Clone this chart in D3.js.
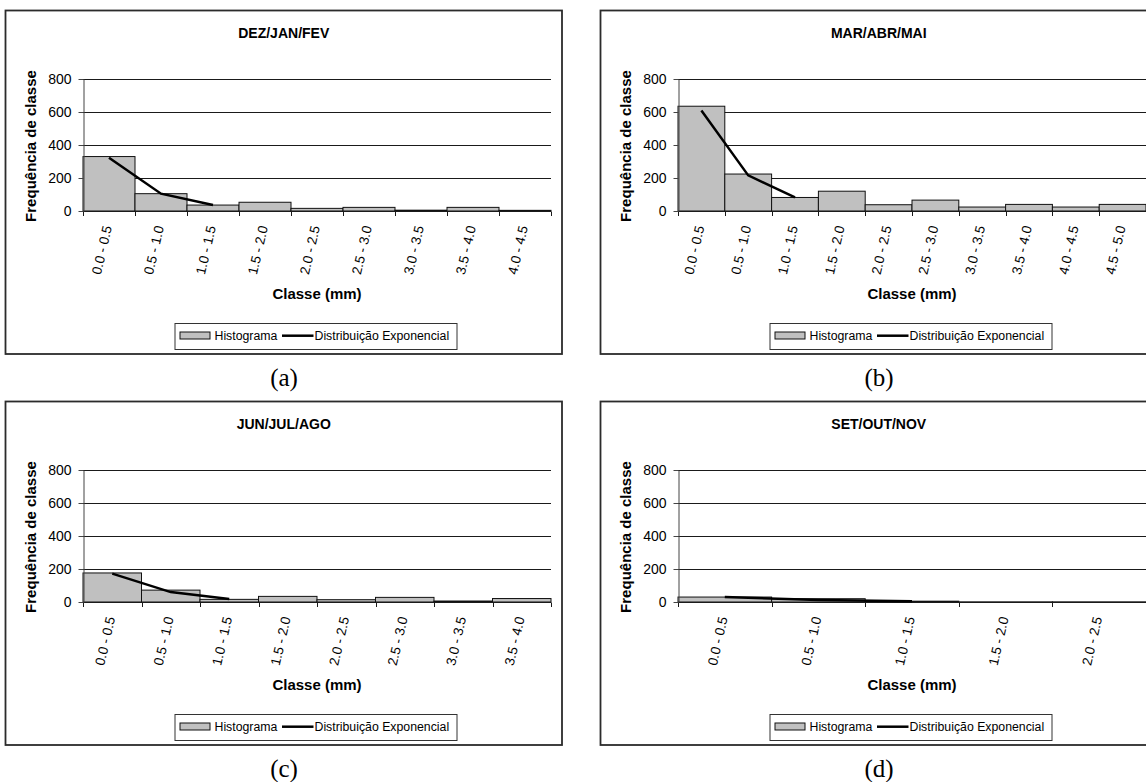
<!DOCTYPE html>
<html>
<head>
<meta charset="utf-8">
<script src="https://cdn.jsdelivr.net/npm/d3@7"></script>
<style>
  html, body { margin: 0; padding: 0; background: #fff; }
  svg { display: block; font-family: "Liberation Sans", Arial, sans-serif; }
</style>
</head>
<body>
<svg id="chart" width="1146" height="782"></svg>
<script>
// Rainfall class frequencies per season, with the fitted exponential curve
const titles = ["DEZ/JAN/FEV", "MAR/ABR/MAI", "JUN/JUL/AGO", "SET/OUT/NOV"];
const captions = ["(a)", "(b)", "(c)", "(d)"];

const classesA = ["0.0 - 0.5", "0.5 - 1.0", "1.0 - 1.5", "1.5 - 2.0", "2.0 - 2.5", "2.5 - 3.0", "3.0 - 3.5", "3.5 - 4.0", "4.0 - 4.5"];
const classesB = ["0.0 - 0.5", "0.5 - 1.0", "1.0 - 1.5", "1.5 - 2.0", "2.0 - 2.5", "2.5 - 3.0", "3.0 - 3.5", "3.5 - 4.0", "4.0 - 4.5", "4.5 - 5.0"];
const classesC = ["0.0 - 0.5", "0.5 - 1.0", "1.0 - 1.5", "1.5 - 2.0", "2.0 - 2.5", "2.5 - 3.0", "3.0 - 3.5", "3.5 - 4.0"];
const classesD = ["0.0 - 0.5", "0.5 - 1.0", "1.0 - 1.5", "1.5 - 2.0", "2.0 - 2.5"];

const histA = [330, 105, 36, 53, 16, 22, 5, 22, 4];
const histB = [635, 224, 82, 120, 38, 66, 24, 40, 24, 40];
const histC = [176, 72, 16, 34, 14, 28, 6, 21];
const histD = [30, 20, 5, 1, 1];

const expoA = [323, 105, 36];
const expoB = [609, 216, 82];
const expoC = [172, 60, 18];
const expoD = [31, 12, 4];

const yTicks = [0, 200, 400, 600, 800];
const yLabel = "Frequência de classe";
const xLabel = "Classe (mm)";
const legendHist = "Histograma";
const legendExpo = "Distribuição Exponencial";

const panels = [
  { classes: classesA, hist: histA, expo: expoA, dx: 0,   dy: 0 },
  { classes: classesB, hist: histB, expo: expoB, dx: 595, dy: 0 },
  { classes: classesC, hist: histC, expo: expoC, dx: 0,   dy: 391 },
  { classes: classesD, hist: histD, expo: expoD, dx: 595, dy: 391 }
].map((p, i) => Object.assign(p, { title: titles[i], caption: captions[i] }));

// Layout of one panel (in panel-local coordinates)
const L = {
  frame: { x: 5.5, y: 10.5, w: 556.5, h: 343.5 },
  plot: { left: 83, right: 551, top: 79, bottom: 211 },
  titleY: 38,
  xTitleY: 299,
  yTitleX: 35.5,
  legend: { y: 323.5, w: 282, h: 26 },
  captionY: 386
};

const svg = d3.select("#chart");

panels.forEach(p => {
  const g = svg.append("g").attr("transform", `translate(${p.dx},${p.dy})`);
  const pl = L.plot;
  const cx = (pl.left + pl.right) / 2;

  // frame
  g.append("rect")
    .attr("x", L.frame.x).attr("y", L.frame.y)
    .attr("width", L.frame.w).attr("height", L.frame.h)
    .attr("fill", "#fff").attr("stroke", "#2b2b2b").attr("stroke-width", 1.8);

  const x = d3.scaleBand().domain(p.classes).range([pl.left, pl.right]).padding(0);
  const y = d3.scaleLinear().domain([0, 800]).range([pl.bottom, pl.top]);

  // gridlines
  g.append("g").selectAll("line").data(yTicks.filter(t => t > 0)).join("line")
    .attr("x1", pl.left).attr("x2", pl.right)
    .attr("y1", d => Math.round(y(d)) + 0.5).attr("y2", d => Math.round(y(d)) + 0.5)
    .attr("stroke", "#1a1a1a").attr("stroke-width", 1);

  // histogram bars
  g.append("g").selectAll("rect").data(p.hist).join("rect")
    .attr("x", (d, i) => x(p.classes[i]))
    .attr("y", d => y(d))
    .attr("width", x.bandwidth())
    .attr("height", d => y(0) - y(d))
    .attr("fill", "#c0c0c0")
    .attr("stroke", "#111").attr("stroke-width", 1);

  // x axis baseline and boundary ticks
  const bl = Math.round(y(0)) + 0.5;
  g.append("line")
    .attr("x1", pl.left).attr("x2", pl.right).attr("y1", bl).attr("y2", bl)
    .attr("stroke", "#1a1a1a").attr("stroke-width", 1);
  const bounds = p.classes.map(c => x(c)).concat([pl.right]);
  g.append("g").selectAll("line").data(bounds).join("line")
    .attr("x1", d => Math.round(d) + 0.5).attr("x2", d => Math.round(d) + 0.5)
    .attr("y1", bl).attr("y2", bl + 4.5)
    .attr("stroke", "#1a1a1a").attr("stroke-width", 1);

  // y axis
  const yAxis = d3.axisLeft(y).tickValues(yTicks).tickSize(5).tickSizeOuter(0).tickPadding(7);
  const ya = g.append("g").attr("transform", `translate(${pl.left + 0.5},0)`).call(yAxis);
  ya.select(".domain").attr("stroke", "#444");
  ya.selectAll(".tick line").attr("stroke", "#444");
  ya.selectAll(".tick text")
    .attr("font-size", 14).attr("font-family", "Liberation Sans, Arial, sans-serif")
    .attr("fill", "#000");

  // exponential fit line
  const line = d3.line()
    .x((d, i) => x(p.classes[i]) + x.bandwidth() / 2)
    .y(d => y(d));
  g.append("path").datum(p.expo)
    .attr("d", line)
    .attr("fill", "none").attr("stroke", "#000").attr("stroke-width", 2.5);

  // category labels (rotated)
  g.append("g").selectAll("text").data(p.classes).join("text")
    .attr("transform", d => `translate(${x(d) + x.bandwidth() / 2 + 3},227) rotate(-77)`)
    .attr("text-anchor", "end")
    .attr("font-size", 13.5)
    .attr("fill", "#000")
    .text(d => d);

  // titles
  g.append("text")
    .attr("x", (L.frame.x * 2 + L.frame.w) / 2).attr("y", L.titleY)
    .attr("text-anchor", "middle").attr("font-weight", "bold").attr("font-size", 14)
    .text(p.title);
  g.append("text")
    .attr("x", cx).attr("y", L.xTitleY)
    .attr("text-anchor", "middle").attr("font-weight", "bold").attr("font-size", 15)
    .text(xLabel);
  g.append("text")
    .attr("transform", `translate(${L.yTitleX},${(pl.top + pl.bottom) / 2 + 1}) rotate(-90)`)
    .attr("text-anchor", "middle").attr("font-weight", "bold").attr("font-size", 15)
    .text(yLabel);

  // legend
  const lx = cx - L.legend.w / 2 - 1;
  const lg = g.append("g").attr("transform", `translate(${lx},${L.legend.y})`);
  lg.append("rect")
    .attr("width", L.legend.w).attr("height", L.legend.h)
    .attr("fill", "#fff").attr("stroke", "#333").attr("stroke-width", 1);
  lg.append("rect")
    .attr("x", 5).attr("y", 8.5).attr("width", 30).attr("height", 7)
    .attr("fill", "#c0c0c0").attr("stroke", "#111").attr("stroke-width", 1);
  lg.append("text")
    .attr("x", 39.5).attr("y", 16.8).attr("font-size", 12.3).text(legendHist);
  lg.append("line")
    .attr("x1", 107).attr("x2", 138.5).attr("y1", 12.2).attr("y2", 12.2)
    .attr("stroke", "#000").attr("stroke-width", 2.5);
  lg.append("text")
    .attr("x", 139.5).attr("y", 16.8).attr("font-size", 12.3).text(legendExpo);

  // caption below the panel
  g.append("text")
    .attr("x", 284).attr("y", L.captionY)
    .attr("text-anchor", "middle")
    .attr("font-family", "Liberation Serif, Times New Roman, serif")
    .attr("font-size", 25)
    .text(p.caption);
});
</script>
</body>
</html>
